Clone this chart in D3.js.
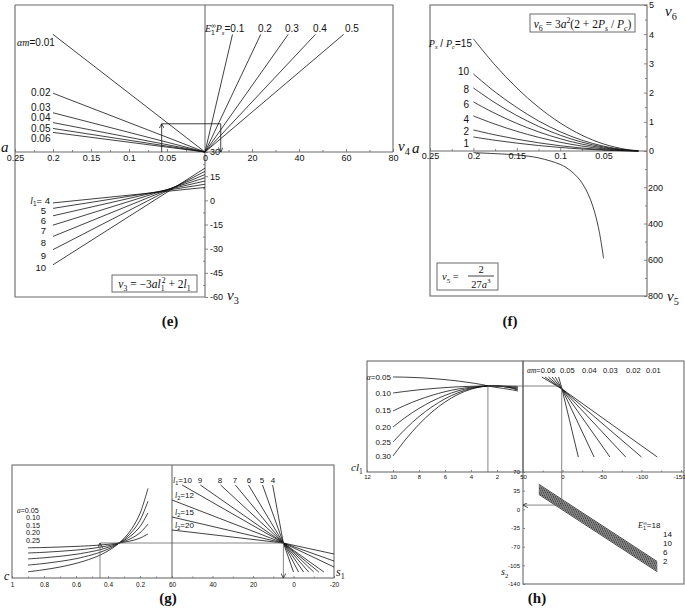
<!DOCTYPE html>
<html><head><meta charset="utf-8">
<script src="https://cdn.jsdelivr.net/npm/d3@7"></script>
<style>body{margin:0;background:#fff}</style>
</head><body>
<script>
// ================= DATA =================
// ---- panel (e)
const eATicks = [0.25, 0.2, 0.15, 0.1, 0.05, 0];
const eAMinor = [0.225, 0.175, 0.125, 0.075, 0.025];
const eV4Ticks = [20, 40, 60, 80];
const eV4Minor = [10, 30, 50, 70];
const eV3Ticks = [30, 15, 0, -15, -30, -45, -60];
const eV3Minor = [22.5, 7.5, -7.5, -22.5, -37.5, -52.5];
const eAmLabels = ["0.01", "0.02", "0.03", "0.04", "0.05", "0.06"];
const eAmW = [20, 10, 6.67, 5, 4, 3.33];          // value at a = 0.2
const ePsLabels = ["0.1", "0.2", "0.3", "0.4", "0.5"];
const ePsV4 = [11.7, 23.7, 35.4, 47, 59];          // v4 at upper end
const ePsW = 20;
const eL1 = [4, 5, 6, 7, 8, 9, 10];
const eV3a0 = [8, 10, 12, 14, 16, 18, 20];         // v3 at a = 0
const eV3a02 = [-1.6, -5, -9.6, -15.4, -22.4, -30.6, -40]; // v3 at a = 0.2
const eGuide = { a: 0.057, w: 4.8, v4: 6.7 };

// ---- panel (f)
const fATicks = [0.25, 0.2, 0.15, 0.1, 0.05];
const fAMinor = [0.225, 0.175, 0.125, 0.075, 0.025];
const fV6Ticks = [0, 1, 2, 3, 4, 5];
const fV6Minor = [0.5, 1.5, 2.5, 3.5, 4.5];
const fV5Ticks = [200, 400, 600, 800];
const fV5Minor = [100, 300, 500, 700];
const fK = [15, 10, 8, 6, 4, 2, 1];
const fA = [0.2, 0.175, 0.15, 0.125, 0.1, 0.075, 0.05, 0.025, 0.01];
const fV6 = [
  [3.84, 2.94, 2.16, 1.50, 0.96, 0.54, 0.24, 0.06, 0.010],
  [2.64, 2.02, 1.49, 1.03, 0.66, 0.37, 0.165, 0.041, 0.007],
  [2.16, 1.65, 1.215, 0.844, 0.54, 0.304, 0.135, 0.034, 0.005],
  [1.68, 1.286, 0.945, 0.656, 0.42, 0.236, 0.105, 0.026, 0.004],
  [1.20, 0.919, 0.675, 0.469, 0.30, 0.169, 0.075, 0.019, 0.003],
  [0.72, 0.551, 0.405, 0.281, 0.18, 0.101, 0.045, 0.011, 0.002],
  [0.48, 0.367, 0.27, 0.1875, 0.12, 0.0675, 0.03, 0.0075, 0.001]
];
const fA5 = [0.2, 0.15, 0.125, 0.1, 0.09, 0.08, 0.075, 0.07, 0.065, 0.06, 0.055, 0.05];
const fV5 = [9.3, 21.9, 37.9, 74.1, 101.6, 144.7, 175.6, 216, 269.7, 342.9, 445.2, 592.6];

// ---- panel (g)
const gCTicks = [1, 0.8, 0.6, 0.4, 0.2];
const gCMinor = [0.9, 0.7, 0.5, 0.3, 0.1];
const gSTicks = [60, 40, 20, 0, -20];
const gSMinor = [50, 30, 10, -10];
const gALabels = ["0.05", "0.10", "0.15", "0.20", "0.25"];
const gC = [0.9, 0.8, 0.7, 0.6, 0.5, 0.45, 0.4, 0.35, 0.3, 0.25, 0.2, 0.15];
const gV = [
  [30.2, 30.5, 31.0, 31.6, 32.4, 33.0, 33.7, 34.6, 35.8, 37.4, 39.9, 44.1],
  [25.0, 25.7, 26.7, 27.9, 29.6, 30.8, 32.2, 34.1, 36.6, 40.0, 45.2, 53.9],
  [19.1, 20.2, 21.7, 23.7, 26.5, 28.3, 30.6, 33.6, 37.5, 43.1, 51.4, 65.2],
  [12.9, 14.5, 16.6, 19.3, 23.2, 25.7, 28.9, 33.0, 38.5, 46.2, 57.7, 76.8],
  [6.2, 8.3, 11.0, 14.6, 19.6, 22.9, 27.1, 32.4, 39.5, 49.6, 64.6, 89.6]
];
const gL1 = [10, 9, 8, 7, 6, 5, 4];
const gL1Top = [55, 46, 36, 28.7, 22.2, 15.3, 10.3];   // s1 at upper end
const gL1Bot = [-15, -12.5, -10, -7.5, -5, -2.5, 0];   // s1 at lower end
const gL1TopV = 93, gL1BotV = 6;
const gCross = { s1: 5, v: 35 };
const gL2 = [12, 15, 20];
const gL2Start = [78, 61, 48];   // v at s1 = 60
const gL2End = [11, 17, 24];     // v at s1 = -20
const gGuide = { c: 0.45, v: 35, s1: 5 };

// ---- panel (h)
const hClTicks = [12, 10, 8, 6, 4, 2];
const hSTicks = [50, 0, -50, -100];
const hSLast = -150;
const hSMinor = [25, -25, -75, -125];
const hS2Ticks = [70, 35, 0, -35, -70, -105, -140];
const hALabels = ["0.05", "0.10", "0.15", "0.20", "0.25", "0.30"];
const hU = [10, 9, 8, 7, 6, 5, 4, 3, 2.7, 2, 1, 0.4];
const hQ = [
  [95, 94.8, 94.3, 93.5, 92.4, 91.0, 89.2, 87.0, 86.0, 84.5, 82.5, 81.0],
  [79.0, 80.7, 82.2, 83.4, 84.4, 85.2, 85.7, 86.0, 86.0, 86.0, 85.8, 85.6],
  [61.0, 67.1, 72.3, 76.7, 80.3, 83.0, 84.8, 85.9, 86.0, 86.0, 85.4, 84.5],
  [45.0, 55.0, 63.6, 70.8, 76.6, 81.1, 84.1, 85.8, 86.0, 86.0, 84.9, 83.6],
  [30.0, 43.6, 55.4, 65.2, 73.2, 79.2, 83.4, 85.7, 86.0, 86.1, 84.5, 82.7],
  [16.0, 33.0, 47.7, 60.0, 70.0, 77.6, 82.8, 85.6, 86.0, 86.1, 84.2, 81.9]
];
const hAmLabels = ["0.06", "0.05", "0.04", "0.03", "0.02", "0.01"];
const hAmStart = [4.9, 9.1, 13.3, 17.8, 22.2, 26.2];  // s at q = 95
const hAmEnd = [-20, -40, -60, -80, -100, -120];      // s at q = 15
const hAmStartQ = 95, hAmEndQ = 15;
const hCross = { s: 0.6, q: 83 };
const hE = [18, 16, 14, 12, 10, 8, 6, 4, 2];
const hELabels = ["18", "14", "10", "6", "2"];
const hS2Start = [47, 44.6, 42.2, 39.9, 37.5, 35.1, 32.7, 30.4, 28];           // s2 at s = 30
const hS2End = [-98, -100.4, -102.8, -105.1, -107.5, -109.9, -112.3, -114.6, -117]; // s2 at s = -120
const hGuide = { cl: 2.7, q: 86, s: 1, s2: 8 };

// ================= DRAWING =================
const SANS = "'Liberation Sans', Arial, Helvetica, sans-serif";
const SERIF = "'Liberation Serif', 'DejaVu Serif', 'Times New Roman', serif";
const INK = "#111", FRAME = "#6b6b6b";

const svg = d3.select("body").append("svg").attr("width", 685).attr("height", 611);
const defs = svg.append("defs");
defs.append("marker").attr("id", "arr").attr("viewBox", "0 0 8 8").attr("refX", 7.5).attr("refY", 4)
  .attr("markerWidth", 5).attr("markerHeight", 5).attr("orient", "auto").attr("markerUnits", "userSpaceOnUse")
  .append("path").attr("d", "M0,0 L7.5,4 L0,8").attr("fill", "none").attr("stroke", INK).attr("stroke-width", 1.2);

function path(g, pts, o = {}) {
  const gen = d3.line();
  if (o.smooth) gen.curve(d3.curveCatmullRom.alpha(0.5));
  const p = g.append("path").attr("d", gen(pts)).attr("fill", "none")
    .attr("stroke", o.stroke || INK).attr("stroke-width", o.w || 0.8);
  if (o.arrow) p.attr("marker-end", "url(#arr)");
  return p;
}
const fr = { stroke: FRAME, w: 1.1 };

function rich(g, x, y, parts, o = {}) {
  const size = o.size || 10;
  const t = g.append("text").attr("x", x).attr("y", y).attr("font-size", size)
    .attr("font-family", o.serif ? SERIF : SANS).attr("text-anchor", o.anchor || "start")
    .attr("fill", INK);
  if (o.bold) t.attr("font-weight", "bold");
  let cur = 0;
  parts.forEach(p => {
    const [s, f] = Array.isArray(p) ? p : [p, ""];
    let target = 0, fs = size;
    if (f.includes("b")) { target = size * 0.28; fs = size * 0.68; }
    if (f.includes("p")) { target = -size * 0.42; fs = size * 0.68; }
    const sp = t.append("tspan").text(s).attr("dy", (target - cur).toFixed(2)).attr("font-size", fs.toFixed(2));
    cur = target;
    if (f.includes("i")) sp.attr("font-style", "italic");
    if (f.includes("s")) sp.attr("font-family", SERIF);
    const m = f.match(/x(-?\d+(\.\d+)?)/); if (m) sp.attr("dx", m[1]);
  });
  return t;
}
function axis(g, gen, x, y, fs) {
  const a = g.append("g").attr("transform", `translate(${x},${y})`).call(gen);
  a.select(".domain").remove();
  a.selectAll("line").attr("stroke", FRAME).attr("stroke-width", 0.8);
  a.selectAll("text").attr("font-size", fs).attr("fill", INK).attr("font-family", SANS);
  return a;
}
const str = d => String(d);

// ---------- (e)
{
  const g = svg.append("g");
  const xA = d3.scaleLinear([0.25, 0], [15, 205]);
  const yW = d3.scaleLinear([0, 25], [152, 5]);
  const xV4 = d3.scaleLinear([0, 80], [205, 393]);
  const yV3 = d3.scaleLinear([30, -60], [152, 297]);

  path(g, [[xA(0.25), yW(25)], [xV4(80), yW(25)], [xV4(80), yW(0)]], fr);
  path(g, [[xA(0.25), yW(25)], [xA(0.25), yV3(-60)], [xA(0), yV3(-60)]], fr);
  path(g, [[xA(0.25), yW(0)], [xV4(80), yW(0)]], fr);
  path(g, [[xA(0), yW(25)], [xA(0), yV3(-60)]], fr);

  axis(g, d3.axisBottom(xA).tickValues(eATicks).tickSize(-3).tickPadding(3).tickFormat(str), 0, yW(0), 9);
  axis(g, d3.axisBottom(xA).tickValues(eAMinor).tickSize(-2).tickFormat(""), 0, yW(0), 9);
  axis(g, d3.axisBottom(xV4).tickValues(eV4Ticks).tickSize(-3).tickPadding(3).tickFormat(str), 0, yW(0), 9);
  axis(g, d3.axisBottom(xV4).tickValues(eV4Minor).tickSize(-2).tickFormat(""), 0, yW(0), 9);
  axis(g, d3.axisRight(yV3).tickValues(eV3Ticks).tickSize(3).tickPadding(2).tickFormat(str), xA(0), 0, 9);
  axis(g, d3.axisLeft(yV3).tickValues(eV3Minor).tickSize(2).tickFormat(""), xA(0), 0, 9);

  eAmW.forEach(w => path(g, [[xA(0.2), yW(w)], [xA(0), yW(0)]]));
  ePsV4.forEach(v => path(g, [[xV4(0), yW(0)], [xV4(v), yW(ePsW)]]));
  eL1.forEach((l, i) => path(g, [[xA(0.2), yV3(eV3a02[i])], [xA(0), yV3(eV3a0[i])]]));

  path(g, [[xA(eGuide.a), yW(0)], [xA(eGuide.a), yW(eGuide.w)]], { w: 0.8, arrow: true });
  path(g, [[xA(eGuide.a), yW(eGuide.w)], [xV4(eGuide.v4), yW(eGuide.w)]], { w: 0.8 });
  path(g, [[xV4(eGuide.v4), yW(eGuide.w)], [xV4(eGuide.v4), yW(0)]], { w: 0.8, arrow: true });

  rich(g, 17, 46, [["αm", "is"], "=0.01"], { size: 10 });
  [96, 111, 121, 132, 142].forEach((y, i) => rich(g, 31, y, [eAmLabels[i + 1]], { size: 10 }));
  rich(g, 205, 32, [["E", "is"], ["1", "b"], ["∞", "px-4"], ["P", "is"], ["s", "bis"], "=0.1"], { size: 10 });
  [258, 285, 313, 345].forEach((x, i) => rich(g, x, 32, [ePsLabels[i + 1]], { size: 10 }));
  rich(g, 50, 203.5, [["l", "is"], ["1", "b"], "= 4"], { size: 9.5, anchor: "end" });
  [213.5, 223.5, 233.5, 245.5, 258.5, 271].forEach((y, i) => rich(g, 46, y, [String(eL1[i + 1])], { size: 9.5, anchor: "end" }));

  g.append("rect").attr("x", 112).attr("y", 275).attr("width", 85).attr("height", 17)
    .attr("fill", "#fff").attr("stroke", FRAME).attr("stroke-width", 1);
  rich(g, 154.5, 287.5, [["v", "i"], ["3", "b"], " = −3", ["al", "i"], ["1", "b"], ["2", "px-3"], " + 2", ["l", "i"], ["1", "b"]], { size: 11.5, serif: true, anchor: "middle" });

  rich(g, 1, 152, [["a", "i"]], { size: 15, serif: true });
  rich(g, 227, 300, [["v", "i"], ["3", "b"]], { size: 15, serif: true });
  rich(g, 398, 151, [["v", "i"], ["4", "b"]], { size: 15, serif: true });
  rich(g, 170, 326, ["(e)"], { size: 15, serif: true, bold: true, anchor: "middle" });
}

// ---------- (f)
{
  const g = svg.append("g");
  const xF = d3.scaleLinear([0.25, 0], [430, 647]);
  const yV6 = d3.scaleLinear([0, 5], [151, 5]);
  const yV5 = d3.scaleLinear([0, 800], [151, 296]);

  g.append("rect").attr("x", xF(0.25)).attr("y", yV6(5)).attr("width", xF(0) - xF(0.25)).attr("height", yV5(800) - yV6(5))
    .attr("fill", "none").attr("stroke", FRAME).attr("stroke-width", 1.1);
  path(g, [[xF(0.25), yV6(0)], [xF(0), yV6(0)]], fr);

  axis(g, d3.axisBottom(xF).tickValues(fATicks).tickSize(-3).tickPadding(2).tickFormat(str), 0, yV6(0), 9);
  axis(g, d3.axisBottom(xF).tickValues(fAMinor).tickSize(-2).tickFormat(""), 0, yV6(0), 9);
  axis(g, d3.axisRight(yV6).tickValues(fV6Ticks).tickSize(-3).tickPadding(2).tickFormat(str), xF(0), 0, 9);
  axis(g, d3.axisRight(yV6).tickValues(fV6Minor).tickSize(-2).tickFormat(""), xF(0), 0, 9);
  axis(g, d3.axisRight(yV5).tickValues(fV5Ticks).tickSize(-3).tickPadding(1).tickFormat(str), xF(0), 0, 9);
  axis(g, d3.axisRight(yV5).tickValues(fV5Minor).tickSize(-2).tickFormat(""), xF(0), 0, 9);

  fV6.forEach(row => path(g, row.map((v, j) => [xF(fA[j]), yV6(v)]), { smooth: true }));
  path(g, fV5.map((v, j) => [xF(fA5[j]), yV5(v)]), { smooth: true });

  rich(g, 472, 46.5, [["P", "is"], ["s", "bis"], " / ", ["P", "is"], ["c", "bis"], "=15"], { size: 10, anchor: "end" });
  [74.5, 92.5, 107.5, 122.5, 135, 147].forEach((y, i) => rich(g, 469, y, [String(fK[i + 1])], { size: 10, anchor: "end" }));

  g.append("rect").attr("x", 530).attr("y", 14).attr("width", 105).attr("height", 18)
    .attr("fill", "#fff").attr("stroke", FRAME).attr("stroke-width", 1);
  rich(g, 582.5, 27.5, [["v", "i"], ["6", "b"], " = 3", ["a", "i"], ["2", "p"], "(2 + 2", ["P", "i"], ["s", "bi"], " / ", ["P", "i"], ["c", "bi"], ")"], { size: 11.5, serif: true, anchor: "middle" });

  g.append("rect").attr("x", 437).attr("y", 263).attr("width", 61).attr("height", 27)
    .attr("fill", "#fff").attr("stroke", FRAME).attr("stroke-width", 1);
  rich(g, 442, 280, [["v", "i"], ["5", "b"], " ="], { size: 10.5, serif: true });
  rich(g, 481, 273, ["2"], { size: 10.5, serif: true, anchor: "middle" });
  path(g, [[468, 276], [494, 276]], { w: 0.8 });
  rich(g, 481, 287.5, ["27", ["a", "i"], ["3", "p"]], { size: 10.5, serif: true, anchor: "middle" });

  rich(g, 412, 153, [["a", "i"]], { size: 15, serif: true });
  rich(g, 665, 16, [["v", "i"], ["6", "b"]], { size: 15, serif: true });
  rich(g, 667, 301, [["v", "i"], ["5", "b"]], { size: 15, serif: true });
  rich(g, 510, 326, ["(f)"], { size: 15, serif: true, bold: true, anchor: "middle" });
}

// ---------- (g)
{
  const g = svg.append("g");
  const xC = d3.scaleLinear([1, 0], [12, 172]);
  const xS1 = d3.scaleLinear([60, -20], [172, 334]);
  const yG = d3.scaleLinear([0, 113], [578, 465]);

  g.append("rect").attr("x", xC(1)).attr("y", yG(113)).attr("width", xS1(-20) - xC(1)).attr("height", yG(0) - yG(113))
    .attr("fill", "none").attr("stroke", FRAME).attr("stroke-width", 1.1);
  path(g, [[xC(0), yG(113)], [xC(0), yG(0)]], fr);

  axis(g, d3.axisBottom(xC).tickValues(gCTicks).tickSize(-2).tickPadding(4).tickFormat(str), 0, yG(0), 6.5);
  axis(g, d3.axisBottom(xC).tickValues(gCMinor).tickSize(-1.5).tickFormat(""), 0, yG(0), 6.5);
  axis(g, d3.axisBottom(xS1).tickValues(gSTicks).tickSize(-2).tickPadding(4).tickFormat(str), 0, yG(0), 6.5);
  axis(g, d3.axisBottom(xS1).tickValues(gSMinor).tickSize(-1.5).tickFormat(""), 0, yG(0), 6.5);

  gV.forEach(row => path(g, row.map((v, j) => [xC(gC[j]), yG(v)]), { smooth: true }));
  gL1.forEach((l, i) => path(g, [[xS1(gL1Top[i]), yG(gL1TopV)], [xS1(gCross.s1), yG(gCross.v)], [xS1(gL1Bot[i]), yG(gL1BotV)]]));
  gL2.forEach((l, i) => path(g, [[xS1(60), yG(gL2Start[i])], [xS1(gCross.s1), yG(gCross.v)], [xS1(-20), yG(gL2End[i])]]));

  path(g, [[xC(gGuide.c), yG(0)], [xC(gGuide.c), yG(gGuide.v)]], { stroke: "#666", w: 0.8, arrow: true });
  path(g, [[xC(gGuide.c), yG(gGuide.v)], [xS1(gGuide.s1), yG(gGuide.v)]], { stroke: "#666", w: 0.8 });
  path(g, [[xS1(gGuide.s1), yG(gGuide.v)], [xS1(gGuide.s1), yG(0)]], { stroke: "#666", w: 0.8, arrow: true });

  rich(g, 17, 512.5, [["a", "is"], "=" + gALabels[0]], { size: 7.2 });
  [520, 527.5, 535, 542.5].forEach((y, i) => rich(g, 26, y, [gALabels[i + 1]], { size: 7.2 }));
  rich(g, 173, 483, [["l", "is"], ["1", "b"], "=10"], { size: 8 });
  [200, 220, 235, 249, 262, 273].forEach((x, i) => rich(g, x, 483, [String(gL1[i + 1])], { size: 8, anchor: "middle" }));
  [500, 517, 530].forEach((y, i) => rich(g, 175, y - 2, [["l", "is"], ["2", "b"], "=" + gL2[i]], { size: 8 }));

  rich(g, 4, 580, [["c", "i"]], { size: 12, serif: true });
  rich(g, 336, 576, [["s", "i"], ["1", "b"]], { size: 12, serif: true });
  rich(g, 168, 603, ["(g)"], { size: 15, serif: true, bold: true, anchor: "middle" });
}

// ---------- (h)
{
  const g = svg.append("g");
  const xCl = d3.scaleLinear([12, 0], [367, 523]);
  const xS = d3.scaleLinear([50, -150], [523, 681]);
  const yQ = d3.scaleLinear([0, 111], [472, 361]);
  const yS2 = d3.scaleLinear([70, -140], [472, 584]);

  g.append("rect").attr("x", xCl(12)).attr("y", yQ(111)).attr("width", xCl(0) - xCl(12)).attr("height", yQ(0) - yQ(111))
    .attr("fill", "none").attr("stroke", FRAME).attr("stroke-width", 1.1);
  g.append("rect").attr("x", xS(50)).attr("y", yQ(111)).attr("width", 684 - xS(50)).attr("height", yS2(-140) - yQ(111))
    .attr("fill", "none").attr("stroke", FRAME).attr("stroke-width", 1.1);
  path(g, [[xS(50), yQ(0)], [684, yQ(0)]], fr);

  axis(g, d3.axisBottom(xCl).tickValues(hClTicks).tickSize(-2).tickPadding(3).tickFormat(str), 0, yQ(0), 6);
  axis(g, d3.axisBottom(xS).tickValues(hSTicks).tickSize(-2).tickPadding(3).tickFormat(str), 0, yQ(0), 6);
  axis(g, d3.axisBottom(xS).tickValues([hSLast]).tickSize(-2).tickPadding(3).tickFormat(str), 0, yQ(0), 6)
    .selectAll("text").attr("text-anchor", "end").attr("dx", 4);
  axis(g, d3.axisBottom(xS).tickValues(hSMinor).tickSize(-1.5).tickFormat(""), 0, yQ(0), 6);
  axis(g, d3.axisLeft(yS2).tickValues(hS2Ticks).tickSize(-2).tickPadding(3).tickFormat(str), xS(50), 0, 6);

  hQ.forEach(row => path(g, row.map((v, j) => [xCl(hU[j]), yQ(v)]), { smooth: true }));
  hAmStart.forEach((s, i) => path(g, [[xS(s), yQ(hAmStartQ)], [xS(hCross.s), yQ(hCross.q)], [xS(hAmEnd[i]), yQ(hAmEndQ)]]));
  hE.forEach((e, i) => path(g, [[xS(30), yS2(hS2Start[i])], [xS(-120), yS2(hS2End[i])]]));

  path(g, [[xCl(hGuide.cl), yQ(hGuide.q)], [xS(hGuide.s), yQ(hGuide.q)]], { stroke: "#666", w: 0.8 });
  path(g, [[xCl(hGuide.cl), yQ(hGuide.q)], [xCl(hGuide.cl), yQ(0)]], { stroke: "#666", w: 0.8 });
  path(g, [[xS(hGuide.s), yQ(hGuide.q)], [xS(hGuide.s), yS2(hGuide.s2)]], { stroke: "#666", w: 0.8 });
  path(g, [[xS(hGuide.s), yS2(hGuide.s2)], [xS(50), yS2(hGuide.s2)]], { stroke: "#666", w: 0.8, arrow: true });

  rich(g, 391, 380, [["α", "is"], "=" + hALabels[0]], { size: 8, anchor: "end" });
  [396, 413, 430, 445, 459].forEach((y, i) => rich(g, 391, y, [hALabels[i + 1]], { size: 8, anchor: "end" }));
  rich(g, 527, 373, [["αm", "is"], "=" + hAmLabels[0]], { size: 7.5 });
  [560, 582, 603, 626, 646].forEach((x, i) => rich(g, x, 373, [hAmLabels[i + 1]], { size: 7.5 }));
  rich(g, 638, 528, [["E", "is"], ["1", "b"], ["∞", "px-3"], "=" + hELabels[0]], { size: 8 });
  [537, 546, 555, 564].forEach((y, i) => rich(g, 663, y, [hELabels[i + 1]], { size: 8 }));

  rich(g, 351, 471, [["cl", "i"], ["1", "b"]], { size: 11, serif: true });
  rich(g, 501, 575, [["s", "i"], ["2", "b"]], { size: 10, serif: true });
  rich(g, 537, 603, ["(h)"], { size: 15, serif: true, bold: true, anchor: "middle" });
}
</script>
</body></html>
